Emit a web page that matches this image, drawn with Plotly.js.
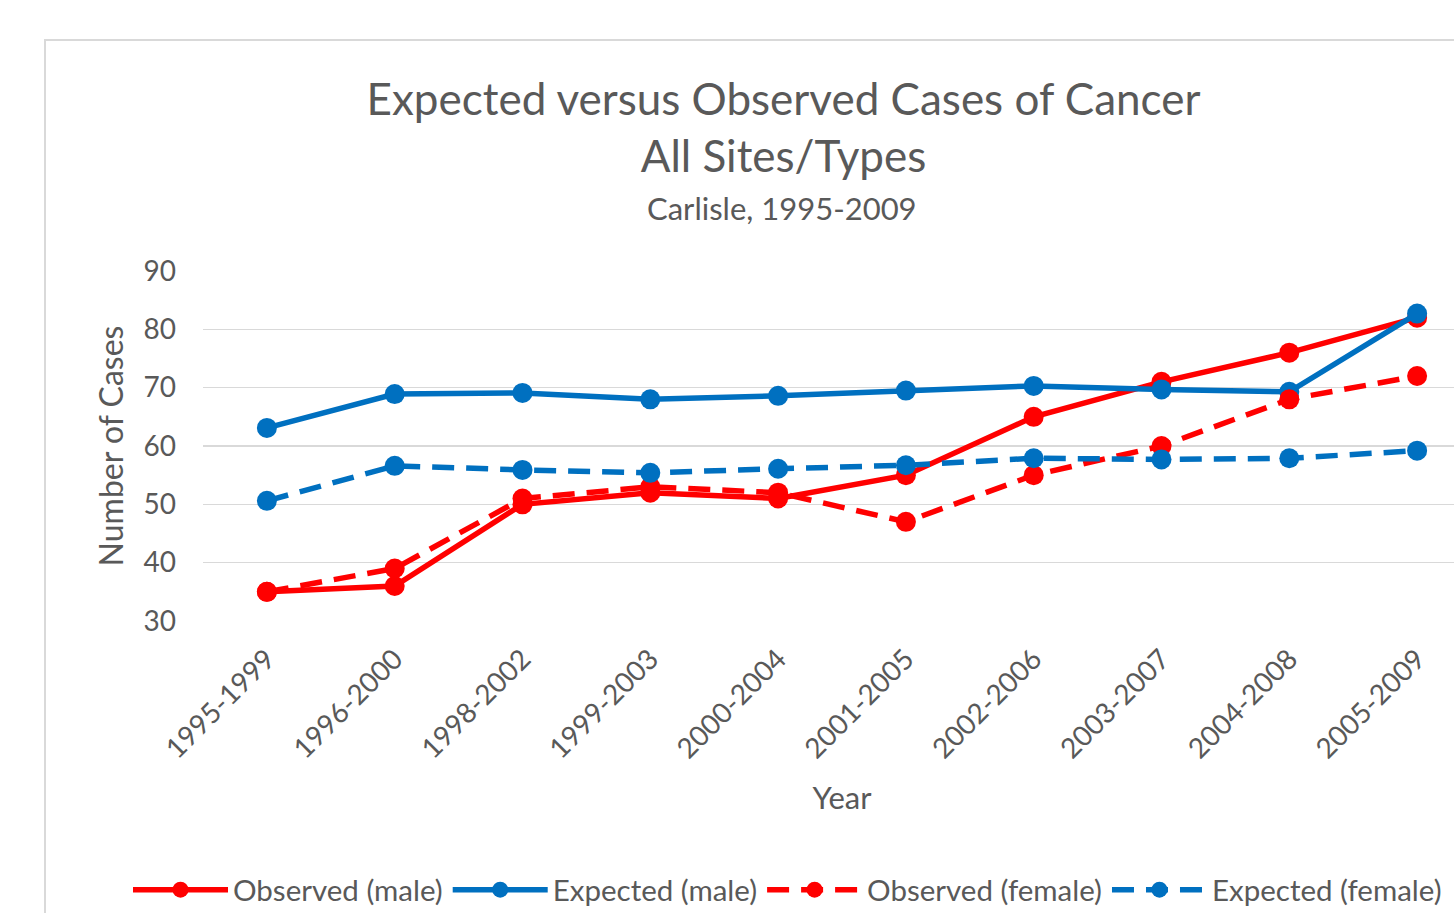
<!DOCTYPE html>
<html>
<head>
<meta charset="utf-8">
<script src="https://cdn.plot.ly/plotly-3.0.1.min.js"></script>
<style>
html,body{margin:0;padding:0;background:#fff;overflow:hidden;width:1454px;height:913px;}
#frame{position:absolute;left:44px;top:39px;border:2px solid #d9d9d9;width:1475px;height:920px;background:#fff;}
#chart{width:1475px;height:920px;}
</style>
</head>
<body>
<div id="frame"><div id="chart"></div></div>
<script>
const categories = ["1995-1999","1996-2000","1998-2002","1999-2003","2000-2004","2001-2005","2002-2006","2003-2007","2004-2008","2005-2009"];
const observedMale   = [35, 36, 50, 52, 51, 55, 65, 71, 76, 82];
const expectedMale   = [63.1, 68.9, 69.1, 68.0, 68.6, 69.5, 70.3, 69.7, 69.3, 82.7];
const observedFemale = [35, 39, 51, 53, 52, 47, 55, 60, 68, 72];
const expectedFemale = [50.6, 56.6, 55.9, 55.4, 56.1, 56.7, 57.9, 57.7, 57.9, 59.2];
const yTicks = [30, 40, 50, 60, 70, 80, 90];

const RED = '#ff0000', BLUE = '#0070c0';
const FONT = 'Lato, "Open Sans", sans-serif';
function tr(name, y, color, dash) {
  return {
    type: 'scatter', mode: 'lines+markers', name: name,
    x: categories, y: y,
    line: {color: color, width: 5.5, dash: dash},
    marker: {color: color, size: 20, symbol: 'circle'}
  };
}
const data = [
  tr('Observed (male)', observedMale, RED, 'solid'),
  tr('Expected (male)', expectedMale, BLUE, 'solid'),
  tr('Observed (female)', observedFemale, RED, '22px,12px'),
  tr('Expected (female)', expectedFemale, BLUE, '22px,12px')
];
const layout = {
  width: 1475, height: 920,
  margin: {l: 157, r: 40, t: 230, b: 340},
  paper_bgcolor: '#fff', plot_bgcolor: '#fff',
  font: {family: FONT, color: '#595959', size: 28},
  title: {
    text: 'Expected versus Observed Cases of Cancer<br>All Sites/Types',
    font: {family: FONT, size: 44, color: '#595959'},
    x: 0.5, xref: 'container', xanchor: 'center',
    y: 1 - 74/920, yref: 'container', yanchor: 'top'
  },
  annotations: [{
    text: 'Carlisle, 1995-2009', xref: 'paper', yref: 'paper',
    x: (736 - 157) / 1278, xanchor: 'center',
    y: 1 + (230 - 167) / 350, yanchor: 'middle',
    showarrow: false, font: {family: FONT, size: 31, color: '#595959'}
  }],
  xaxis: {
    type: 'category',
    range: [-0.5, categories.length - 0.5],
    tickangle: -45,
    tickfont: {size: 28, color: '#595959'},
    showgrid: false, zeroline: false, showline: false,
    ticks: '', ticklabelstandoff: 15,
    title: {text: 'Year', font: {size: 31, color: '#595959'}, standoff: 23},
    automargin: false
  },
  yaxis: {
    range: [30, 90],
    tickvals: yTicks,
    ticktext: yTicks.map(String),
    tickfont: {size: 28, color: '#595959'},
    showgrid: true, gridcolor: '#d9d9d9', gridwidth: 1.5,
    zeroline: false, showline: false, ticks: '',
    ticklabelstandoff: 26,
    title: {text: 'Number of Cases', font: {size: 32, color: '#595959'}, standoff: 10},
    automargin: false
  },
  showlegend: true,
  legend: {
    orientation: 'h', x: (82 - 157) / 1278, xanchor: 'left',
    y: -(849 - 580) / 350, yanchor: 'middle',
    font: {size: 29.5, color: '#595959'},
    itemwidth: 95, tracegroupgap: 0
  }
};
Plotly.newPlot('chart', data, layout, {displayModeBar: false, staticPlot: true});
</script>
</body>
</html>
